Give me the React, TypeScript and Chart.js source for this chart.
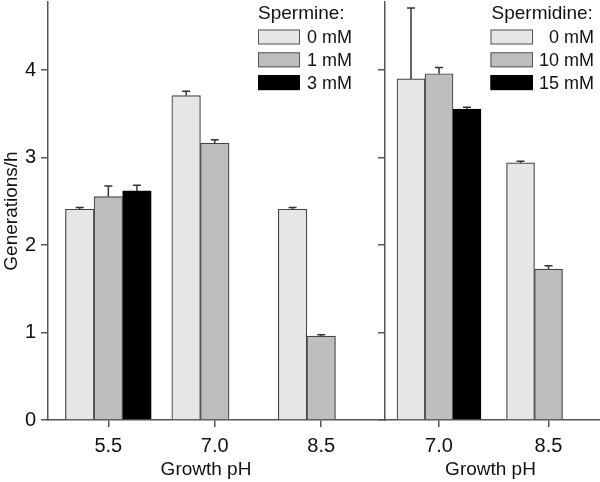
import React, { useEffect, useRef } from 'react';
import { Chart, registerables } from 'chart.js';

Chart.register(...registerables);

const FONT = '"Liberation Sans", Arial, Helvetica, sans-serif';

// ---- data ----
const leftPH = ['5.5', '7.0', '8.5'];
const rightPH = ['7.0', '8.5'];
const yTicks = [0, 1, 2, 3, 4];
const xTitleText = 'Growth pH';
const yTitleText = 'Generations/h';

const spermineLabels = ['0 mM', '1 mM', '3 mM'];
const spermine0 = [2.41, 3.71, 2.41];
const spermine0Err = [0.02, 0.05, 0.02];
const spermine1 = [2.555, 3.165, 0.96];
const spermine1Err = [0.12, 0.04, 0.015];
const spermine3 = [2.62, null, null];
const spermine3Err = [0.065, 0, 0];

const spermidineLabels = ['0 mM', '10 mM', '15 mM'];
const spermidine0 = [3.9, 2.94];
const spermidine0Err = [0.81, 0.02];
const spermidine10 = [3.96, 1.725];
const spermidine10Err = [0.07, 0.04];
const spermidine15 = [3.555, null];
const spermidine15Err = [0.02, 0];

const fills = ['#e6e6e6', '#bebebe', '#000000'];
const borders = ['#444444', '#444444', '#000000'];

const errorBarPlugin = {
  id: 'errorBars',
  afterDatasetsDraw(chart: any) {
    const ctx = chart.ctx;
    const ys = chart.scales.y;
    chart.data.datasets.forEach((ds: any, i: number) => {
      const meta = chart.getDatasetMeta(i);
      const errs = ds.errors || [];
      meta.data.forEach((el: any, j: number) => {
        const raw = ds.data[j];
        const v = raw ? raw.y : null;
        const e = errs[j];
        if (v == null || !e) return;
        const x = el.x;
        const base = ys.getPixelForValue(v);
        const top = ys.getPixelForValue(v + e);
        ctx.save();
        ctx.strokeStyle = '#333';
        ctx.lineWidth = 1.5;
        ctx.beginPath();
        ctx.moveTo(x, base);
        ctx.lineTo(x, top);
        ctx.moveTo(x - 4, top);
        ctx.lineTo(x + 4, top);
        ctx.stroke();
        ctx.restore();
      });
    });
  },
};

const panelLegendPlugin = {
  id: 'panelLegend',
  afterDraw(chart: any, _args: any, opts: any) {
    if (!opts || !opts.title) return;
    const ctx = chart.ctx;
    ctx.save();
    // x axis title, centred under the panel's tick labels
    ctx.fillStyle = '#111';
    ctx.font = `19px ${FONT}`;
    ctx.textAlign = 'center';
    ctx.textBaseline = 'middle';
    ctx.fillText(xTitleText, opts.xTitleX, opts.xTitleY);
    // legend
    ctx.textAlign = 'left';
    ctx.textBaseline = 'alphabetic';
    ctx.fillText(opts.title, opts.titleX, opts.titleY);
    chart.data.datasets.forEach((ds: any, i: number) => {
      const top = opts.boxTop + i * opts.pitch;
      ctx.fillStyle = ds.backgroundColor;
      ctx.fillRect(opts.boxX, top, opts.boxW, opts.boxH);
      ctx.strokeStyle = ds.borderColor === '#000000' ? '#000' : '#555';
      ctx.lineWidth = 1;
      ctx.strokeRect(opts.boxX + 0.5, top + 0.5, opts.boxW - 1, opts.boxH - 1);
      ctx.fillStyle = '#111';
      ctx.font = `18px ${FONT}`;
      ctx.textAlign = 'right';
      ctx.textBaseline = 'middle';
      ctx.fillText(ds.label, opts.labelRight, top + opts.boxH / 2 + 1);
    });
    ctx.restore();
  },
};

function buildDatasets(labels: string[], series: (number | null)[][], errs: number[][], thickness: number) {
  return series.map((vals, i) => ({
    label: labels[i],
    data: vals.map((v, j) => ({ x: j, y: v })),
    errors: errs[i],
    backgroundColor: fills[i],
    borderColor: borders[i],
    borderWidth: 1.2,
    barThickness: thickness,
  }));
}

function makeConfig(p: any) {
  const axisColor = '#555';
  return {
    type: 'bar',
    data: { datasets: p.datasets },
    plugins: [errorBarPlugin, panelLegendPlugin],
    options: {
      responsive: false,
      animation: false,
      devicePixelRatio: 1,
      layout: { padding: p.padding },
      plugins: {
        legend: { display: false },
        tooltip: { enabled: false },
        panelLegend: p.legend,
      },
      scales: {
        x: {
          type: 'linear',
          offset: false,
          min: p.xMin,
          max: p.xMax,
          afterBuildTicks: (s: any) => {
            s.ticks = p.cats.map((_: string, i: number) => ({ value: i }));
          },
          afterFit: (s: any) => {
            s.height = 62;
          },
          ticks: {
            callback: (v: any) => p.cats[Math.round(v)] ?? '',
            font: { family: FONT, size: 20 },
            color: '#111',
            padding: 7,
            maxRotation: 0,
            autoSkip: false,
          },
          grid: { offset: false, drawOnChartArea: false, drawTicks: true, tickLength: 7, color: axisColor, lineWidth: 1.5 },
          border: { display: true, color: axisColor, width: 1.5 },
          title: { display: false },
        },
        y: {
          min: 0,
          max: 4.78,
          afterBuildTicks: (s: any) => {
            s.ticks = yTicks.map((v) => ({ value: v }));
          },
          afterFit: (s: any) => {
            s.width = p.yWidth;
            s.paddingTop = 0;
            s.paddingBottom = 0;
          },
          ticks: {
            display: p.yLabels,
            font: { family: FONT, size: 20 },
            color: '#111',
            padding: 5,
          },
          grid: { drawOnChartArea: false, drawTicks: true, tickLength: 7, color: axisColor, lineWidth: 1.5 },
          border: { display: true, color: axisColor, width: 1.5 },
          title: {
            display: p.yLabels,
            text: yTitleText,
            font: { family: FONT, size: 19 },
            color: '#111',
            padding: { top: 0, bottom: 0 },
          },
        },
      },
    },
  };
}

export default function App() {
  const leftRef = useRef<HTMLCanvasElement | null>(null);
  const rightRef = useRef<HTMLCanvasElement | null>(null);

  useEffect(() => {
    const left = new Chart(
      leftRef.current as HTMLCanvasElement,
      makeConfig({
        datasets: buildDatasets(spermineLabels, [spermine0, spermine1, spermine3], [spermine0Err, spermine1Err, spermine3Err], 28.6),
        cats: leftPH,
        xMin: -0.567,
        xMax: 2.6,
        yWidth: 48,
        yLabels: true,
        padding: { top: 2, right: 1, left: 0, bottom: 0 },
        legend: {
          title: 'Spermine:',
          titleX: 258,
          titleY: 19,
          boxX: 258,
          boxW: 42,
          boxH: 15,
          boxTop: 29.5,
          pitch: 22.8,
          labelRight: 352,
          xTitleX: 206,
          xTitleY: 470,
        },
      }) as any
    );
    const right = new Chart(
      rightRef.current as HTMLCanvasElement,
      makeConfig({
        datasets: buildDatasets(spermidineLabels, [spermidine0, spermidine10, spermidine15], [spermidine0Err, spermidine10Err, spermidine15Err], 28),
        cats: rightPH,
        xMin: -0.493,
        xMax: 1.47,
        yWidth: 10,
        yLabels: false,
        padding: { top: 2, right: 0, left: 0, bottom: 0 },
        legend: {
          title: 'Spermidine:',
          titleX: 116.5,
          titleY: 19,
          boxX: 115.5,
          boxW: 42.5,
          boxH: 15,
          boxTop: 29.5,
          pitch: 22.8,
          labelRight: 219,
          xTitleX: 115.5,
          xTitleY: 470,
        },
      }) as any
    );
    return () => {
      left.destroy();
      right.destroy();
    };
  }, []);

  return (
    <div style={{ position: 'absolute', left: 0, top: 0, width: 600, height: 482, background: '#fff' }}>
      <canvas ref={leftRef} width={386} height={482} style={{ position: 'absolute', left: 0, top: 0, width: 386, height: 482 }} />
      <canvas ref={rightRef} width={225} height={482} style={{ position: 'absolute', left: 375, top: 0, width: 225, height: 482 }} />
    </div>
  );
}
